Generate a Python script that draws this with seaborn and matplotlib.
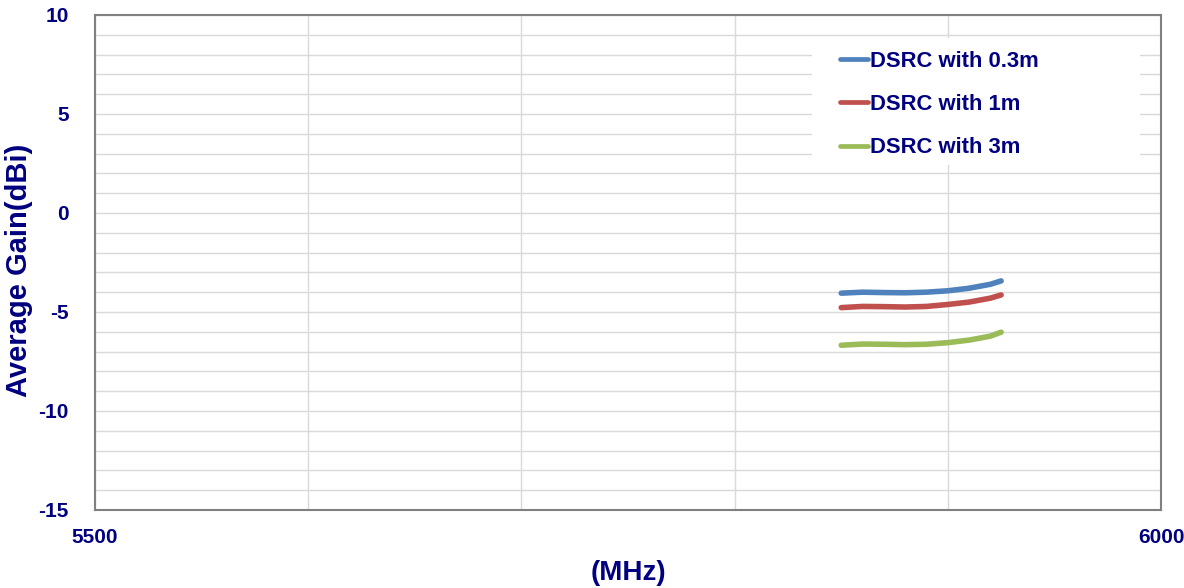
import pandas as pd
import seaborn as sns
import matplotlib.pyplot as plt
from matplotlib.patches import Rectangle
from matplotlib.ticker import MultipleLocator, FixedLocator

# frequency points (MHz) and average gain (dBi)
freq = [5850, 5860, 5870, 5880, 5890, 5900, 5910, 5920, 5925]
gain_03m = [-4.05, -4.00, -4.02, -4.03, -4.00, -3.93, -3.80, -3.60, -3.43]
gain_1m = [-4.78, -4.72, -4.73, -4.75, -4.72, -4.62, -4.50, -4.30, -4.14]
gain_3m = [-6.68, -6.62, -6.63, -6.65, -6.63, -6.55, -6.42, -6.22, -6.02]

series_names = ['DSRC with 0.3m', 'DSRC with 1m', 'DSRC with 3m']
colors = ['#4F81BD', '#C0504D', '#9BBB59']

frames = []
for name, vals in zip(series_names, [gain_03m, gain_1m, gain_3m]):
    frames.append(pd.DataFrame({'Frequency': freq, 'Gain': vals, 'Series': name}))
df = pd.concat(frames, ignore_index=True)

sns.set_style('white')
plt.rcParams['font.family'] = ['Liberation Sans', 'DejaVu Sans']
plt.rcParams['font.weight'] = 'bold'
plt.rcParams['axes.unicode_minus'] = False
navy = '#000080'

fig = plt.figure(figsize=(11.84, 5.88), dpi=100)
ax = fig.add_axes([0.0802, 0.1327, 0.9004, 0.8418])

sns.lineplot(data=df, x='Frequency', y='Gain', hue='Series', palette=colors,
             linewidth=4.0, ax=ax, legend=True)
for ln in ax.get_lines():
    ln.set_solid_capstyle('round')
    ln.set_solid_joinstyle('round')

ax.set_xlim(5500, 6000)
ax.set_ylim(-15, 10)
ax.xaxis.set_major_locator(FixedLocator([5500, 6000]))
ax.xaxis.set_minor_locator(MultipleLocator(100))
ax.yaxis.set_major_locator(MultipleLocator(5))
ax.yaxis.set_minor_locator(MultipleLocator(1))
ax.grid(True, which='both', color='#d9d9d9', linewidth=1.0)
ax.set_axisbelow(True)

for s in ax.spines.values():
    s.set_visible(True)
    s.set_color('#808080')
    s.set_linewidth(1.5)

ax.tick_params(axis='y', which='major', direction='in', length=4, color='#808080',
               labelsize=15, labelcolor=navy, pad=19)
ax.tick_params(axis='y', which='minor', length=0)
ax.tick_params(axis='x', which='both', length=0, labelsize=15, labelcolor=navy, pad=13)

ax.set_xlabel('(MHz)', fontsize=20, color=navy, fontweight='bold', labelpad=9)
ax.set_ylabel('Average Gain(dBi)', fontsize=21, color=navy, fontweight='bold')
ax.yaxis.set_label_coords(-0.058, 0.485)

# white legend background (covers the grid like the original)
ax.add_patch(Rectangle((0.6726, 0.697), 0.3077, 0.2565, transform=ax.transAxes,
                       facecolor='white', edgecolor='none', zorder=1))

leg = ax.legend(loc='upper left', bbox_to_anchor=(0.68, 0.968), borderaxespad=0,
                frameon=False, fontsize=15.8, handlelength=1.3,
                handletextpad=0.1, labelspacing=1.02, borderpad=0.9)
for t in leg.get_texts():
    t.set_color(navy)
    t.set_fontweight('bold')
for h in leg.get_lines():
    h.set_linewidth(3.4)

fig.savefig('out.png', dpi=100)
